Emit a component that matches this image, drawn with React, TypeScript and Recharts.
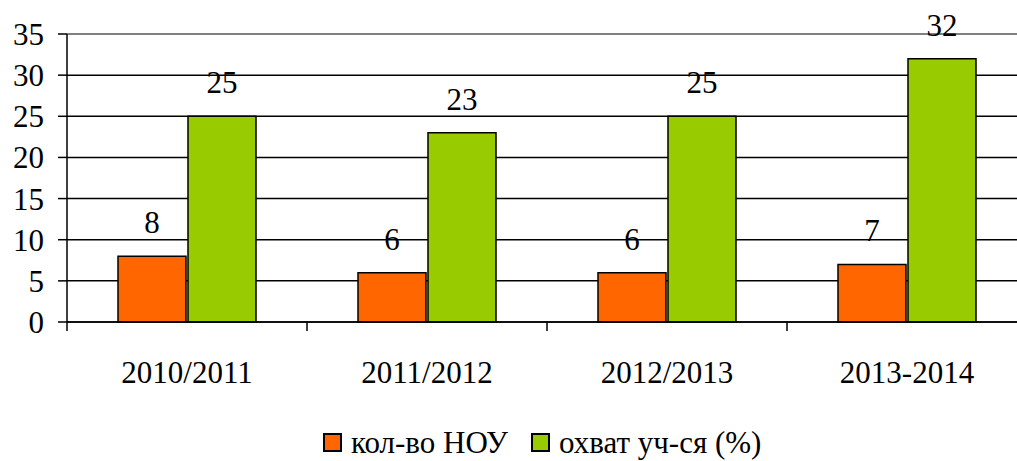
import { Bar, BarChart, CartesianGrid, LabelList, Legend, ReferenceLine, XAxis, YAxis } from "recharts";

const years = ["2010/2011", "2011/2012", "2012/2013", "2013-2014"];
const nouCount = [8, 6, 6, 7];
const coverage = [25, 23, 25, 32];
const yTicks = [0, 5, 10, 15, 20, 25, 30, 35];

const SERIES = [
  { key: "nou", name: "кол-во НОУ", color: "#FF6600" },
  { key: "cov", name: "охват уч-ся (%)", color: "#99CC00" },
];

const data = years.map((year, i) => ({ year, nou: nouCount[i], cov: coverage[i] }));

const FONT = '"Liberation Serif", serif';
const PLOT_LEFT = 67;
const PLOT_W = 960;
const BAND = PLOT_W / years.length;

function YearTick({ x, y, payload, index }: any) {
  return (
    <g>
      <line x1={x - BAND / 2} y1={y} x2={x - BAND / 2} y2={y + 9} stroke="#000" strokeWidth={1.5} />
      {index === years.length - 1 && (
        <line x1={x + BAND / 2} y1={y} x2={x + BAND / 2} y2={y + 9} stroke="#000" strokeWidth={1.5} />
      )}
      <text x={x} y={y + 61} textAnchor="middle" fontFamily={FONT} fontSize={31} fill="#000">
        {payload.value}
      </text>
    </g>
  );
}

function ValueTick({ x, y, payload }: any) {
  return (
    <text x={x} y={y + 11} textAnchor="end" fontFamily={FONT} fontSize={31} fill="#000">
      {payload.value}
    </text>
  );
}

function BarValue({ x, y, width, value }: any) {
  return (
    <text x={x + width / 2} y={y - 23} textAnchor="middle" fontFamily={FONT} fontSize={31} fill="#000">
      {value}
    </text>
  );
}

function LegendBox() {
  return (
    <svg width={PLOT_W} height={50}>
      {SERIES.map((s, i) => {
        const x0 = i === 0 ? 256 : 464;
        return (
          <g key={s.key}>
            <rect x={x0 + 1} y={23} width={17} height={17} fill={s.color} stroke="#000" strokeWidth={2} />
            <text x={x0 + 28} y={42} fontFamily={FONT} fontSize={31} fill="#000">
              {s.name}
            </text>
          </g>
        );
      })}
    </svg>
  );
}

export default function App() {
  return (
    <div style={{ position: "absolute", left: 0, top: 0, width: 1017, height: 461, overflow: "hidden", background: "#fff", fontFamily: FONT }}>
      <BarChart
        width={PLOT_LEFT + PLOT_W}
        height={461}
        data={data}
        margin={{ top: 34, right: 0, left: 0, bottom: 0 }}
        barCategoryGap="21.25%"
        barGap={2}
      >
        <CartesianGrid vertical={false} stroke="#000" strokeWidth={1.5} />
        <ReferenceLine y={35} stroke="#808080" strokeWidth={2} />
        <XAxis
          dataKey="year"
          height={89}
          tickSize={0}
          tickMargin={0}
          tickLine={false}
          axisLine={{ stroke: "#000", strokeWidth: 1.5 }}
          tick={<YearTick />}
          interval={0}
        />
        <YAxis
          width={PLOT_LEFT}
          domain={[0, 35]}
          ticks={yTicks}
          tickSize={9}
          tickMargin={14}
          tickLine={{ stroke: "#000", strokeWidth: 1.5 }}
          axisLine={{ stroke: "#000", strokeWidth: 1.5 }}
          tick={<ValueTick />}
        />
        <Legend
          verticalAlign="bottom"
          content={<LegendBox />}
          wrapperStyle={{ left: PLOT_LEFT, width: PLOT_W, height: 50 }}
        />
        {SERIES.map((s) => (
          <Bar key={s.key} dataKey={s.key} name={s.name} fill={s.color} stroke="#000" strokeWidth={1.5} isAnimationActive={false}>
            <LabelList dataKey={s.key} content={<BarValue />} />
          </Bar>
        ))}
      </BarChart>
    </div>
  );
}
